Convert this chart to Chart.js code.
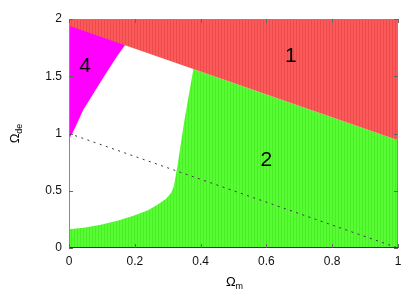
<!DOCTYPE html>
<html>
<head>
<meta charset="utf-8">
<script src="https://cdn.jsdelivr.net/npm/chart.js@4"></script>
<style>
  html, body { margin: 0; padding: 0; background: #fff; }
  #c { display: block; }
</style>
</head>
<body>
<canvas id="c" width="415" height="299"></canvas>
<script>
// ---- Data ----
const xTicks = [0, 0.2, 0.4, 0.6, 0.8, 1];
const yTicks = [0, 0.5, 1, 1.5, 2];

// Upper boundary of region 2 / lower boundary of region 1
const boundaryRedX = [0, 1];
const boundaryRedY = [1.94, 0.94];

// Boundary between region 4 (magenta) and the white region
const boundaryMagX = [0, 0.01, 0.02, 0.043, 0.07, 0.094, 0.12, 0.145, 0.17];
const boundaryMagY = [0.95, 1.0, 1.06, 1.205, 1.33, 1.44, 1.56, 1.67, 1.77];

// Boundary between the white region and region 2 (green)
const boundaryGreenX = [0, 0.05, 0.1, 0.15, 0.2, 0.24, 0.27, 0.295, 0.31, 0.318, 0.322, 0.33, 0.337, 0.35, 0.365, 0.378];
const boundaryGreenY = [0.163, 0.18, 0.205, 0.24, 0.285, 0.33, 0.38, 0.43, 0.48, 0.53, 0.594, 0.72, 0.856, 1.1, 1.35, 1.562];

// Dashed line (flat universe)
const flatX = [0, 1];
const flatY = [1, 0];

// Region labels
const regionNames = ['1', '2', '4'];
const regionX = [0.674, 0.6, 0.049];
const regionY = [1.686, 0.777, 1.598];

// ---- Helpers ----
function pts(xs, ys) { return xs.map((x, i) => ({ x: x, y: ys[i] })); }
function stripes(a, b) {
  const cv = document.createElement('canvas');
  cv.width = 3; cv.height = 1;
  const cx = cv.getContext('2d');
  cx.fillStyle = a; cx.fillRect(0, 0, 2, 1);
  cx.fillStyle = b; cx.fillRect(2, 0, 1, 1);
  return cx.createPattern(cv, 'repeat');
}
const ctx = document.getElementById('c').getContext('2d');
const redFill = stripes('rgb(250,90,90)', 'rgb(238,74,74)');
const greenFill = stripes('rgb(88,252,50)', 'rgb(74,238,40)');
const FONT = '"Liberation Sans", Arial, Helvetica, sans-serif';
const fmt = v => String(Number(Number(v).toFixed(2)));

const region = (data, fill, color) => ({
  data: data, fill: fill, backgroundColor: color, borderWidth: 0,
  pointRadius: 0, showLine: true, tension: 0
});

const decor = {
  id: 'decor',
  afterDatasetsDraw(chart) {
    const c = chart.ctx, a = chart.chartArea;
    const xs = chart.scales.x, ys = chart.scales.y;
    c.save();
    // frame
    c.strokeStyle = '#8a8a8a';
    c.lineWidth = 1;
    c.strokeRect(a.left + 0.5, a.top + 0.5, a.right - a.left - 1, a.bottom - a.top - 1);
    c.strokeStyle = '#2b3a2b';
    c.beginPath();
    c.moveTo(a.left, a.bottom - 0.5); c.lineTo(a.right, a.bottom - 0.5);
    c.stroke();
    // inward ticks on all sides
    c.strokeStyle = '#666';
    c.beginPath();
    const tl = 4;
    xTicks.forEach(v => {
      const px = Math.round(xs.getPixelForValue(v)) + 0.5;
      c.moveTo(px, a.bottom); c.lineTo(px, a.bottom - tl);
      c.moveTo(px, a.top); c.lineTo(px, a.top + tl);
    });
    yTicks.forEach(v => {
      const py = Math.round(ys.getPixelForValue(v)) + 0.5;
      c.moveTo(a.left, py); c.lineTo(a.left + tl, py);
      c.moveTo(a.right, py); c.lineTo(a.right - tl, py);
    });
    c.stroke();
    // region labels
    c.fillStyle = '#000';
    c.font = '21px ' + FONT;
    c.textAlign = 'center';
    c.textBaseline = 'middle';
    regionNames.forEach((t, i) => {
      c.fillText(t, xs.getPixelForValue(regionX[i]), ys.getPixelForValue(regionY[i]) + 1);
    });
    // x-axis title: Omega_m
    c.textAlign = 'left';
    c.textBaseline = 'alphabetic';
    c.font = '13px ' + FONT;
    const cxm = (a.left + a.right) / 2 + 1;
    const w1 = c.measureText('\u03A9').width;
    c.font = '9px ' + FONT;
    const w2 = c.measureText('m').width;
    const startX = cxm - (w1 + w2) / 2;
    c.font = '13px ' + FONT;
    c.fillText('\u03A9', startX, 286);
    c.font = '9px ' + FONT;
    c.fillText('m', startX + w1, 289);
    // y-axis title: Omega_de (rotated)
    c.translate(19, (a.top + a.bottom) / 2);
    c.rotate(-Math.PI / 2);
    c.font = '13px ' + FONT;
    const v1 = c.measureText('\u03A9').width;
    c.font = '9px ' + FONT;
    const v2 = c.measureText('de').width;
    const sx = -(v1 + v2) / 2;
    c.font = '13px ' + FONT;
    c.fillText('\u03A9', sx, 0);
    c.font = '9px ' + FONT;
    c.fillText('de', sx + v1, 3);
    c.restore();
  }
};

new Chart(ctx, {
  type: 'scatter',
  data: {
    datasets: [
      { data: pts(flatX, flatY), showLine: true, fill: false, borderColor: '#3a3a3a',
        borderWidth: 1, borderDash: [2, 4.5], pointRadius: 0 },
      region(pts(boundaryRedX, boundaryRedY), 'end', redFill),
      region(pts(boundaryMagX, boundaryMagY), 'end', '#ff00ff'),
      region(pts(boundaryGreenX, boundaryGreenY), 'end', '#ffffff'),
      region(pts(boundaryRedX, boundaryRedY), 'start', greenFill)
    ]
  },
  options: {
    responsive: false,
    animation: false,
    events: [],
    layout: { padding: { top: 19, right: 17, left: 0, bottom: 0 } },
    plugins: { legend: { display: false }, tooltip: { enabled: false } },
    scales: {
      x: {
        type: 'linear', min: 0, max: 1,
        afterBuildTicks: s => { s.ticks = xTicks.map(v => ({ value: v })); },
        afterFit: s => { s.height = 51; },
        grid: { display: false, drawTicks: false },
        border: { display: false },
        ticks: { padding: 6, color: '#111', font: { family: FONT, size: 12 }, maxRotation: 0, callback: fmt }
      },
      y: {
        type: 'linear', min: 0, max: 2,
        afterBuildTicks: s => { s.ticks = yTicks.map(v => ({ value: v })); },
        afterFit: s => { s.width = 69; },
        grid: { display: false, drawTicks: false },
        border: { display: false },
        ticks: { padding: 7, color: '#111', font: { family: FONT, size: 12 }, callback: fmt }
      }
    }
  },
  plugins: [decor]
});
</script>
</body>
</html>
